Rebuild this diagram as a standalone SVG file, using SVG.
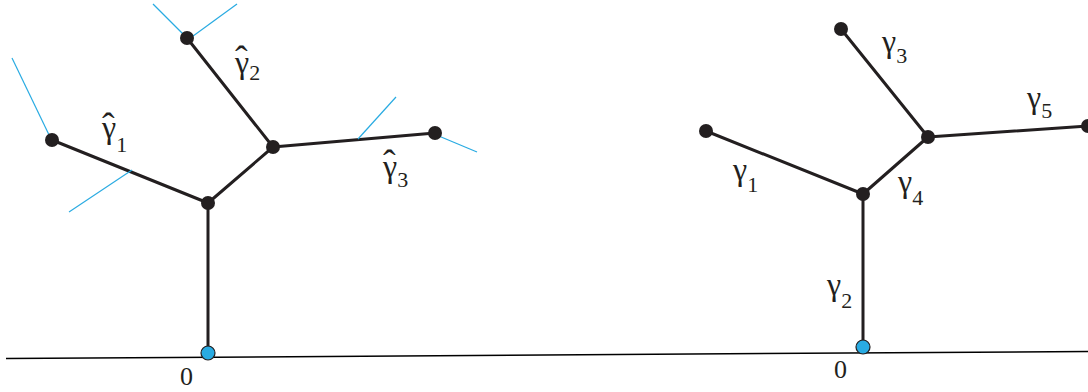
<svg xmlns="http://www.w3.org/2000/svg" width="1088" height="392" viewBox="0 0 1088 392">
<style>
.edge{stroke:#231f20;stroke-width:3;fill:none;stroke-linecap:round}
.cut{stroke:#29abe2;stroke-width:1.2;fill:none}
.node{fill:#231f20}
.root{fill:#29abe2;stroke:#231f20;stroke-width:1.2}
.lbl{font-family:'Liberation Serif','Times New Roman',serif;fill:#231f20}
.g{font-size:32px}
.s{font-size:22px}
.h{font-size:38px}
.axis{stroke:#000;stroke-width:1.5}
</style>
<line class="axis" x1="6" y1="358.5" x2="1088" y2="351.5"/>
<g id="connectors">
<line class="edge" x1="208" y1="353" x2="208" y2="203"/>
<line class="edge" x1="208" y1="203" x2="52" y2="140"/>
<line class="edge" x1="208" y1="203" x2="273" y2="147"/>
<line class="edge" x1="273" y1="147" x2="187" y2="38"/>
<line class="edge" x1="273" y1="147" x2="435" y2="133"/>
<line class="edge" x1="863" y1="347" x2="863" y2="194"/>
<line class="edge" x1="863" y1="194" x2="706" y2="131"/>
<line class="edge" x1="863" y1="194" x2="928" y2="137"/>
<line class="edge" x1="928" y1="137" x2="841" y2="29"/>
<line class="edge" x1="928" y1="137" x2="1088" y2="126"/>
<line class="cut" x1="12" y1="58" x2="51" y2="139"/>
<line class="cut" x1="69" y1="212" x2="132" y2="170"/>
<line class="cut" x1="153" y1="4" x2="187" y2="38"/>
<line class="cut" x1="189" y1="39" x2="237" y2="4"/>
<line class="cut" x1="358" y1="139" x2="396" y2="97"/>
<line class="cut" x1="434" y1="134" x2="477" y2="152"/>
</g>
<g id="L-root"><circle class="root" cx="208" cy="353" r="7"/></g>
<g id="L-A"><circle class="node" cx="208" cy="203" r="7"/></g>
<g id="L-B"><circle class="node" cx="273" cy="147" r="7"/></g>
<g id="L-leaf1"><circle class="node" cx="52" cy="140" r="7"/></g>
<g id="L-leaf2"><circle class="node" cx="187" cy="38" r="7"/></g>
<g id="L-leaf3"><circle class="node" cx="435" cy="133" r="7"/></g>
<g id="R-root"><circle class="root" cx="863" cy="347" r="7"/></g>
<g id="R-A"><circle class="node" cx="863" cy="194" r="7"/></g>
<g id="R-B"><circle class="node" cx="928" cy="137" r="7"/></g>
<g id="R-leaf1"><circle class="node" cx="706" cy="131" r="7"/></g>
<g id="R-leaf3"><circle class="node" cx="841" cy="29" r="7"/></g>
<g id="R-leaf5"><circle class="node" cx="1088" cy="126" r="7"/></g>
<g id="labels">
<text class="lbl"><tspan class="h" x="102" y="139">ˆ</tspan><tspan class="g" x="102" y="138">γ</tspan><tspan class="s" dy="14">1</tspan></text>
<text class="lbl"><tspan class="h" x="235" y="72">ˆ</tspan><tspan class="g" x="235" y="73">γ</tspan><tspan class="s" dy="7">2</tspan></text>
<text class="lbl"><tspan class="h" x="383" y="176">ˆ</tspan><tspan class="g" x="383" y="177">γ</tspan><tspan class="s" dy="10">3</tspan></text>
<text class="lbl" x="733" y="180"><tspan class="g">γ</tspan><tspan class="s" dy="12">1</tspan></text>
<text class="lbl" x="827" y="295"><tspan class="g">γ</tspan><tspan class="s" dy="13">2</tspan></text>
<text class="lbl" x="882" y="52"><tspan class="g">γ</tspan><tspan class="s" dy="11">3</tspan></text>
<text class="lbl" x="898" y="192"><tspan class="g">γ</tspan><tspan class="s" dy="13">4</tspan></text>
<text class="lbl" x="1027" y="108"><tspan class="g">γ</tspan><tspan class="s" dy="10">5</tspan></text>
<text class="lbl" x="180" y="385" font-size="26">0</text>
<text class="lbl" x="834" y="378" font-size="26">0</text>
</g>
</svg>
